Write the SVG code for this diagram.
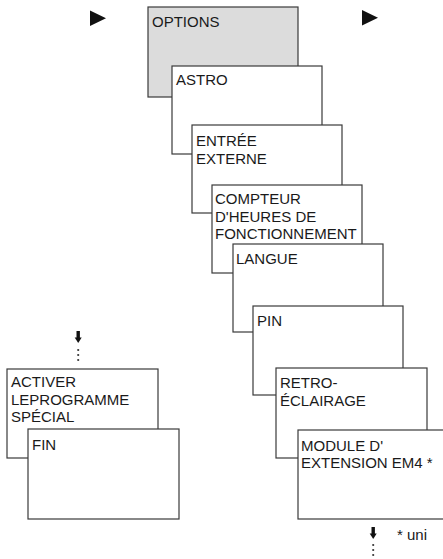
<svg xmlns="http://www.w3.org/2000/svg" width="443" height="559" viewBox="0 0 443 559">
<style>
.box{fill:#fff;stroke:#3a3a3a;stroke-width:1.2}
.opt{fill:#dcdcdc}
text{font-family:"Liberation Sans",Arial,sans-serif;font-size:15px;fill:#1a1a1a}
.tri,.arr{fill:#111}
.dot{fill:#333}
</style>
<rect width="443" height="559" fill="#fff"/>
<g id="connectors">
<polygon class="tri" points="90,10.5 90,26 106,18.25"/>
<polygon class="tri" points="362,10 362,25.5 378,17.75"/>
<g id="arrow-left">
<rect class="arr" x="76.5" y="331" width="3.4" height="8"/>
<polygon class="arr" points="74.7,337.5 81.7,337.5 78.2,343"/>
<circle class="dot" cx="78.2" cy="350" r="1.1"/>
<circle class="dot" cx="78.2" cy="355" r="1.1"/>
<circle class="dot" cx="78.2" cy="360" r="1.1"/>
</g>
<g id="arrow-right">
<rect class="arr" x="371.5" y="527" width="3.4" height="8"/>
<polygon class="arr" points="369.7,533.5 376.7,533.5 373.2,539"/>
<circle class="dot" cx="373.2" cy="545" r="1.1"/>
<circle class="dot" cx="373.2" cy="550" r="1.1"/>
<circle class="dot" cx="373.2" cy="555" r="1.1"/>
</g>
</g>
<g id="options"><rect class="box opt" x="148" y="7" width="150" height="90"/><text x="152" y="27">OPTIONS</text></g>
<g id="astro"><rect class="box" x="172" y="66" width="150" height="88"/><text x="176" y="85">ASTRO</text></g>
<g id="entree"><rect class="box" x="192" y="125" width="150" height="88"/><text x="196" y="146">ENTRÉE</text><text x="196" y="164">EXTERNE</text></g>
<g id="compteur"><rect class="box" x="212" y="185" width="150" height="88"/><text x="215" y="204">COMPTEUR</text><text x="215" y="222">D'HEURES DE</text><text x="215" y="239">FONCTIONNEMENT</text></g>
<g id="langue"><rect class="box" x="233" y="244" width="150" height="88"/><text x="236" y="264">LANGUE</text></g>
<g id="pin"><rect class="box" x="253" y="306" width="150" height="89"/><text x="257" y="326">PIN</text></g>
<g id="retro"><rect class="box" x="276" y="368" width="151" height="90"/><text x="280" y="388">RETRO-</text><text x="280" y="406">ÉCLAIRAGE</text></g>
<g id="module"><rect class="box" x="298" y="430" width="151" height="89"/><text x="301" y="451">MODULE D'</text><text x="301" y="468">EXTENSION EM4 *</text></g>
<g id="activer"><rect class="box" x="7" y="369" width="151" height="89"/><text x="11" y="387">ACTIVER</text><text x="11" y="405">LEPROGRAMME</text><text x="11" y="422">SPÉCIAL</text></g>
<g id="fin"><rect class="box" x="28" y="429" width="151" height="90"/><text x="32" y="450">FIN</text></g>
<g id="note"><text x="397" y="540">* uni</text></g>
</svg>
